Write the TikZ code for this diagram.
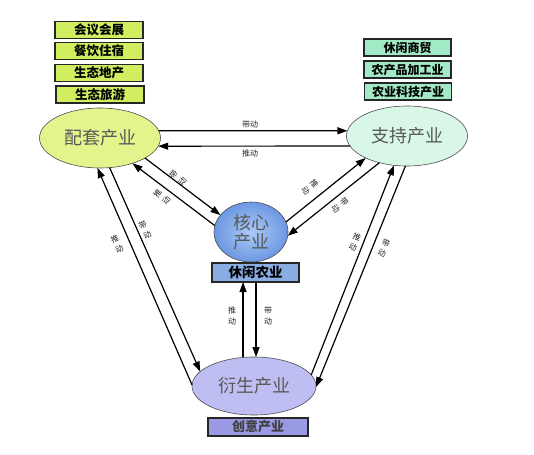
\documentclass[tikz,border=0pt]{standalone}
\usepackage{fontspec}
\setmainfont{Noto Sans CJK SC}
\usetikzlibrary{arrows.meta,shapes.geometric}
\definecolor{boxY}{RGB}{208,238,96}
\definecolor{ellY}{RGB}{228,243,140}
\definecolor{boxG}{RGB}{162,234,198}
\definecolor{ellG}{RGB}{216,247,230}
\definecolor{ellBin}{RGB}{172,202,246}
\definecolor{ellBout}{RGB}{108,152,226}
\definecolor{boxB}{RGB}{138,174,228}
\definecolor{ellP}{RGB}{190,190,242}
\definecolor{boxP}{RGB}{154,154,228}
\begin{document}
\begin{tikzpicture}[x=1pt,y=-1pt,
  lbox/.style={draw=black!85, line width=1.6pt, minimum height=17pt, inner sep=0pt, outer sep=0pt},
  ell/.style={ellipse, draw=black!70, line width=0.6pt, inner sep=0pt, outer sep=0pt, text=black!65, font=\fontsize{18}{19}\selectfont},
  arr/.style={-{Triangle[length=10pt,width=7pt]}, line width=1.2pt},
  lab/.style={font=\fontsize{8}{11}\selectfont, inner sep=0pt, align=center, text=black!85}
]
\useasboundingbox (0,0) rectangle (534,454);

% left boxes
\node[lbox, fill=boxY, minimum width=88pt, font=\fontsize{12.5}{13}\selectfont\bfseries] (b1) at (99,30) {会议会展};
\node[lbox, fill=boxY, minimum width=88pt, font=\fontsize{12.5}{13}\selectfont\bfseries] (b2) at (99,51) {餐饮住宿};
\node[lbox, fill=boxY, minimum width=88pt, font=\fontsize{12.5}{13}\selectfont\bfseries] (b3) at (99,73) {生态地产};
\node[lbox, fill=boxY, minimum width=88pt, font=\fontsize{12.5}{13}\selectfont\bfseries] (b4) at (100,94.5) {生态旅游};
% right boxes
\node[lbox, fill=boxG, minimum width=87pt, font=\fontsize{12}{13}\selectfont\bfseries] (g1) at (407.5,47.5) {休闲商贸};
\node[lbox, fill=boxG, minimum width=87pt, font=\fontsize{12}{13}\selectfont\bfseries] (g2) at (407.5,69.5) {农产品加工业};
\node[lbox, fill=boxG, minimum width=87pt, font=\fontsize{12}{13}\selectfont\bfseries] (g3) at (408,91.5) {农业科技产业};

% ellipses
\node[ell, fill=ellY, minimum width=121pt, minimum height=60pt] (pt) at (100,138) {配套产业};
\node[ell, fill=ellG, minimum width=121pt, minimum height=60pt] (zc) at (407,136) {支持产业};
\node[ell, inner color=ellBin, outer color=ellBout, minimum width=74pt, minimum height=60pt, align=center] (hx) at (251,232) {核心\\产业};
\node[ell, fill=ellP, minimum width=124pt, minimum height=58pt] (ys) at (254,386) {衍生产业};

% bottom boxes
\node[lbox, fill=boxB, minimum width=87pt, minimum height=19pt, line width=1.4pt, font=\fontsize{13.5}{14}\selectfont\bfseries] (xx) at (255.5,272.5) {休闲农业};
\node[lbox, fill=boxP, minimum width=100pt, minimum height=18pt, line width=1.4pt, text=black!75, font=\fontsize{13}{14}\selectfont\bfseries] (cy) at (258,427) {创意产业};

% connectors
\draw[arr] (pt.7) -- (zc.175);
\draw[arr] (zc.190) -- (pt.-8);
\draw[arr] (pt.-24) -- (hx.151);
\draw[arr] (hx.170) -- (pt.-38);
\draw[arr] (hx.16) -- (zc.208);
\draw[arr] (zc.224) -- (hx.-6);
\draw[arr] (ys.179) -- (pt.265);
\draw[arr] (pt.-72) -- (ys.165);
\draw[arr] (ys.11) -- (zc.246);
\draw[arr] (zc.267) -- (ys.-1);
\draw[arr] (ys.111) -- (ys.111 |- xx.south);
\draw[arr] (xx.south -| ys.86) -- (ys.86);

% labels
\node[lab] (t1) at (250,124) {带动};
\node[lab] (t2) at (250,153) {推动};
\node[lab, rotate=53] (t3) at (178,178) {带\\动};
\node[lab, rotate=53] (t4) at (162,197) {推\\动};
\node[lab, rotate=-51] (t5) at (310,187) {推\\动};
\node[lab, rotate=-51] (t6) at (340,205) {带\\动};
\node[lab, rotate=24] (t7) at (117,244) {推\\动};
\node[lab, rotate=24] (t8) at (145,230) {带\\动};
\node[lab, rotate=-22] (t9) at (355,242) {推\\动};
\node[lab, rotate=-22] (t10) at (384,248) {带\\动};
\node[lab] (t11) at (232,316) {推\\动};
\node[lab] (t12) at (268,316) {带\\动};
\end{tikzpicture}
\end{document}
